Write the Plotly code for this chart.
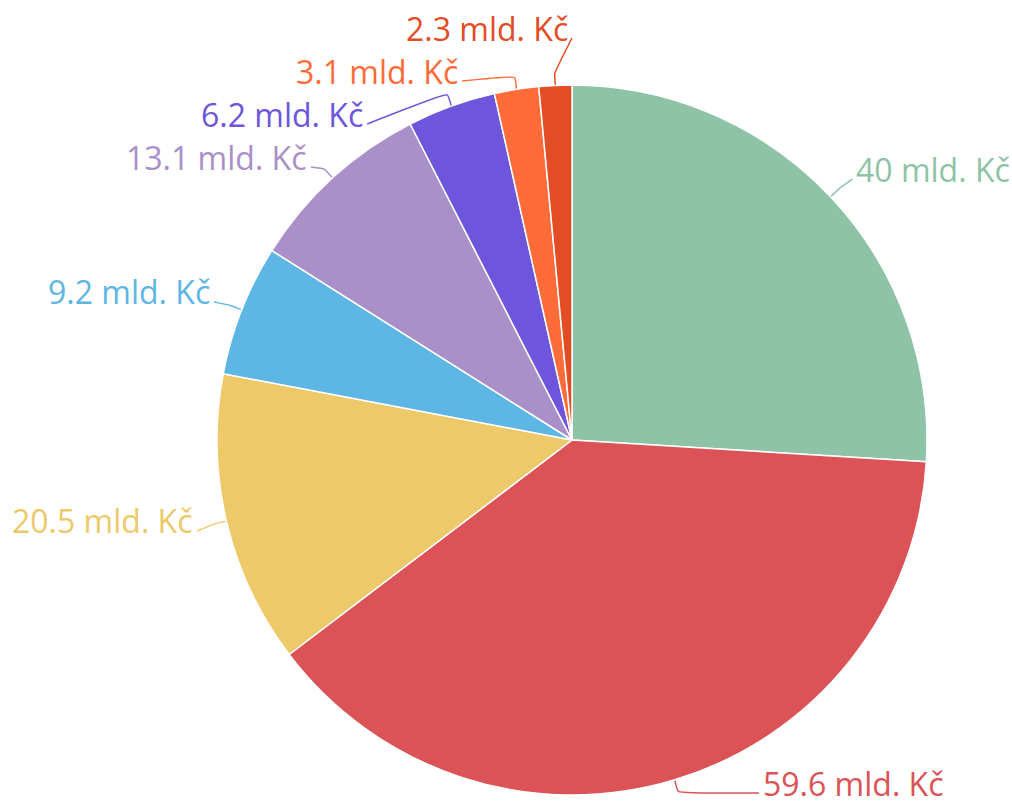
import math
import plotly.graph_objects as go

# ---- data ----
labels = ["A", "B", "C", "D", "E", "F", "G", "H"]
values = [40, 59.6, 20.5, 9.2, 13.1, 6.2, 3.1, 2.3]
colors = ["#8FC3A8", "#DB5356", "#EDC96A", "#5EB6E4", "#AA90C8", "#6D56DB", "#FF6B39", "#E34D25"]
unit = "mld. Kč"

# ---- layout constants (pixels) ----
W, H = 1012, 806
CX, CY, R = 572, 440, 355
LABEL_DIST = 30
LABEL_SHIFT = -7
BREAK_DIST = 12
SPACING = 43
Y_LO, Y_HI = 28, 783
PAD = 2
FONT = 32

total = sum(values)
angles = []
acc = 0.0
for v in values:
    angles.append((acc + v / 2) / total * 2 * math.pi)  # clockwise from top
    acc += v

RL = R + LABEL_DIST
natural = [CY - RL * math.cos(a) + LABEL_SHIFT for a in angles]
side = ["right" if math.sin(a) >= 0 else "left" for a in angles]


def distribute(idx):
    idx = sorted(idx, key=lambda i: natural[i])
    clusters = [[i] for i in idx]

    def place(c):
        n = len(c)
        start = sum(natural[i] for i in c) / n - (n - 1) * SPACING / 2
        start = max(Y_LO, min(start, Y_HI - (n - 1) * SPACING))
        return start

    changed = True
    while changed:
        changed = False
        for k in range(len(clusters) - 1):
            a, b = clusters[k], clusters[k + 1]
            end_a = place(a) + (len(a) - 1) * SPACING
            if place(b) - end_a < SPACING:
                clusters[k] = a + b
                del clusters[k + 1]
                changed = True
                break
    pos = {}
    for c in clusters:
        s = place(c)
        for j, i in enumerate(c):
            pos[i] = s + j * SPACING
    return pos


ly = {}
ly.update(distribute([i for i in range(len(values)) if side[i] == "left"]))
ly.update(distribute([i for i in range(len(values)) if side[i] == "right"]))

fig = go.Figure()
fig.add_trace(go.Pie(
    labels=labels,
    values=values,
    sort=False,
    direction="clockwise",
    rotation=0,
    marker=dict(colors=colors, line=dict(color="white", width=1.5)),
    textinfo="none",
    hoverinfo="skip",
    showlegend=False,
    domain=dict(x=[(CX - R) / W, (CX + R) / W], y=[1 - (CY + R) / H, 1 - (CY - R) / H]),
))

annotations = []
for i, a in enumerate(angles):
    y = ly[i]
    sgn = 1 if side[i] == "right" else -1
    if abs(y - natural[i]) < 0.5:
        ax = CX + RL * math.sin(a)
    else:
        yx = y - 0.2 * FONT if y > CY else y
        dy = yx - CY
        ax = CX + sgn * math.sqrt(max(RL * RL - dy * dy, 0.0))
    tx, ty = CX + R * math.sin(a), CY - R * math.cos(a)
    bx, by = CX + (R + BREAK_DIST) * math.sin(a), CY - (R + BREAK_DIST) * math.cos(a)
    ey = y + 10
    fig.add_trace(go.Scatter(
        x=[tx, bx, ax], y=[ty, by, ey], mode="lines",
        line=dict(color=colors[i], width=1.5, shape="spline", smoothing=0.3),
        hoverinfo="skip", showlegend=False,
    ))
    annotations.append(dict(
        x=ax + sgn * PAD, y=y, xref="x", yref="y",
        text=f"{values[i]:g} {unit}", showarrow=False,
        xanchor="left" if sgn > 0 else "right", yanchor="middle",
        font=dict(color=colors[i], size=FONT, family="Open Sans"),
    ))

fig.update_layout(
    width=W, height=H,
    margin=dict(l=0, r=0, t=0, b=0),
    paper_bgcolor="white", plot_bgcolor="rgba(0,0,0,0)",
    xaxis=dict(range=[0, W], visible=False, fixedrange=True),
    yaxis=dict(range=[H, 0], visible=False, fixedrange=True),
    annotations=annotations,
    font=dict(family="Open Sans"),
)
fig.write_html(
    "out.html",
    config={"displayModeBar": False},
    post_script="document.body.style.margin='0';document.body.style.overflow='hidden';",
)
